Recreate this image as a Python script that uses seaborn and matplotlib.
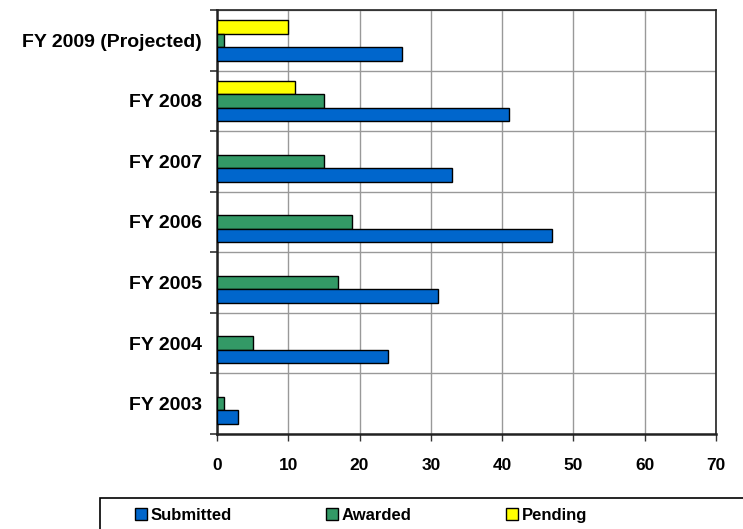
import pandas as pd
import numpy as np
import matplotlib.pyplot as plt
import matplotlib.patches as mpatches
from matplotlib.lines import Line2D
import seaborn as sns

sns.set_style('white')
plt.rcParams['font.family'] = ['Liberation Sans', 'DejaVu Sans']
plt.rcParams['text.color'] = 'black'

# Data
years = ['FY 2009 (Projected)', 'FY 2008', 'FY 2007', 'FY 2006',
         'FY 2005', 'FY 2004', 'FY 2003']
submitted = [26, 41, 33, 47, 31, 24, 3]
awarded = [1, 15, 15, 19, 17, 5, 1]
pending = [10, 11, np.nan, np.nan, np.nan, np.nan, np.nan]

colors = {'Submitted': '#0066CC', 'Awarded': '#339966', 'Pending': '#FFFF00'}

df = pd.DataFrame({'Year': years, 'Submitted': submitted,
                   'Awarded': awarded, 'Pending': pending})
long_df = df.melt(id_vars='Year', var_name='Status', value_name='Count').dropna()

fig = plt.figure(figsize=(7.43, 5.29), dpi=100)
ax = fig.add_axes([0.292, 0.1796, 0.6717, 0.8015])

sns.barplot(data=long_df, y='Year', x='Count', hue='Status', order=years,
            hue_order=['Pending', 'Awarded', 'Submitted'], palette=colors,
            saturation=1, orient='h', width=0.67, edgecolor='black', linewidth=1,
            errorbar=None, ax=ax, zorder=3)

ax.set_xlim(0, 70)
ax.set_xticks(range(0, 71, 10))
ax.set_ylim(len(years) - 0.5, -0.5)
ax.set_yticks(np.arange(-0.5, len(years), 1), minor=True)
ax.grid(True, axis='x', color='#999999', linewidth=1, zorder=0)
ax.grid(True, axis='y', which='minor', color='#999999', linewidth=1, zorder=0)
ax.grid(False, axis='y', which='major')
ax.set_axisbelow(True)

ax.tick_params(axis='y', which='major', left=False, length=0, pad=11, labelcolor='black')
ax.tick_params(axis='y', which='minor', left=True, length=5, width=1.2, color='#333333', direction='out')
ax.tick_params(axis='x', bottom=True, length=5, width=1, color='#333333', direction='out',
               pad=12, labelcolor='black')
for lbl in ax.get_yticklabels():
    lbl.set_fontweight('bold')
    lbl.set_fontsize(14)
for lbl in ax.get_xticklabels():
    lbl.set_fontweight('bold')
    lbl.set_fontsize(12.5)

for side in ['left', 'bottom']:
    ax.spines[side].set_color('#222222')
    ax.spines[side].set_linewidth(1.8)
for side in ['top', 'right']:
    ax.spines[side].set_color('#222222')
    ax.spines[side].set_linewidth(1.2)
    ax.spines[side].set_visible(True)

ax.set_xlabel('')
ax.set_ylabel('')
ax.get_legend().remove()

# Legend with frame running off the figure edge
fig.patches.append(mpatches.Rectangle((0.1346, -0.2), 1.0, 0.2586, transform=fig.transFigure,
                                      facecolor='white', edgecolor='black', linewidth=1.2))
handles = [Line2D([], [], marker='s', linestyle='none', markersize=9,
                  markerfacecolor=colors[k], markeredgecolor='black', markeredgewidth=1)
           for k in ['Submitted', 'Awarded', 'Pending']]
fig.legend(handles, ['Submitted', 'Awarded', 'Pending'], loc='center left',
           bbox_to_anchor=(0.16, 0.025), ncol=3, frameon=False,
           prop={'weight': 'bold', 'size': 12}, handletextpad=0.2,
           columnspacing=5.6, handlelength=0.8)

plt.savefig('out.png', dpi=100)
